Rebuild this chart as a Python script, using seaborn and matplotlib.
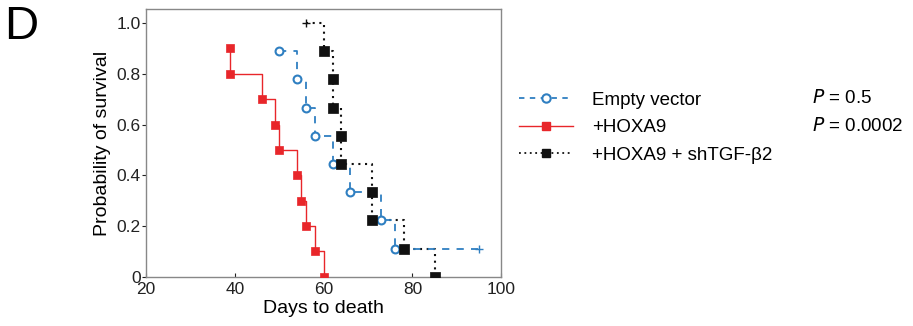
import seaborn as sns
import matplotlib.pyplot as plt
import pandas as pd
from matplotlib.lines import Line2D

# Kaplan-Meier steps
ev_days = [50, 54, 56, 58, 62, 66, 73, 76]
ev_surv = [0.889, 0.778, 0.667, 0.556, 0.444, 0.333, 0.222, 0.111]
ev_cens_day = 95

hox_days = [39, 39, 46, 49, 50, 54, 55, 56, 58, 60]
hox_surv = [0.9, 0.8, 0.7, 0.6, 0.5, 0.4, 0.3, 0.2, 0.1, 0.0]

sh_days = [60, 62, 62, 64, 64, 71, 71, 78, 85]
sh_surv = [0.889, 0.778, 0.667, 0.556, 0.444, 0.333, 0.222, 0.111, 0.0]
sh_cens_day = 56

labels = ["Empty vector", "+HOXA9", "+HOXA9 + shTGF-\u03b22"]
pvals = ["0.5", "0.0002", None]

blue = "#2f7fc1"
red = "#e8262a"
black = "#111111"

plt.rcParams['font.family'] = ['Liberation Sans', 'DejaVu Sans']

fig = plt.figure(figsize=(9.13, 3.26), dpi=100)
ax = fig.add_axes([0.160, 0.151, 0.389, 0.821])

# lines (steps), censored points included
ev_line = pd.DataFrame({"d": ev_days + [ev_cens_day], "s": ev_surv + [ev_surv[-1]]})
hox_line = pd.DataFrame({"d": hox_days, "s": hox_surv})
sh_line = pd.DataFrame({"d": [sh_cens_day] + sh_days, "s": [1.0] + sh_surv})

sns.lineplot(data=sh_line, x="d", y="s", ax=ax, color=black, sort=False, estimator=None,
             drawstyle="steps-post", linestyle=(0, (1, 2.2)), linewidth=1.5)
sns.lineplot(data=ev_line, x="d", y="s", ax=ax, color=blue, sort=False, estimator=None,
             drawstyle="steps-post", linestyle=(0, (4, 4)), linewidth=1.3)
sns.lineplot(data=hox_line, x="d", y="s", ax=ax, color=red, sort=False, estimator=None,
             drawstyle="steps-post", linewidth=1.0)

# event markers
sns.scatterplot(x=ev_days, y=ev_surv, ax=ax, marker="o", s=32, facecolor="white",
                edgecolor=blue, linewidth=1.5, zorder=5)
sns.scatterplot(x=hox_days, y=hox_surv, ax=ax, marker="s", s=38, color=red,
                edgecolor=red, zorder=5)
sns.scatterplot(x=sh_days, y=sh_surv, ax=ax, marker="s", s=42, color=black,
                edgecolor=black, zorder=6)
# censor marks
sns.scatterplot(x=[ev_cens_day], y=[ev_surv[-1]], ax=ax, marker="+", s=30, color=blue,
                linewidth=1.0, zorder=5)
sns.scatterplot(x=[sh_cens_day], y=[1.0], ax=ax, marker="+", s=30, color=black,
                linewidth=1.0, zorder=5)

ax.set_xlim(20, 100)
ax.set_ylim(0, 1.055)
ax.set_xticks([20, 40, 60, 80, 100])
ax.set_yticks([0, 0.2, 0.4, 0.6, 0.8, 1.0])
ax.set_yticklabels(["0", "0.2", "0.4", "0.6", "0.8", "1.0"])
ax.tick_params(axis="y", direction="out", length=3, labelsize=12.5, colors="#222222", pad=1)
ax.tick_params(axis="x", direction="in", length=3, labelsize=12.5, colors="#222222", pad=4)
for sp in ax.spines.values():
    sp.set_color("#888888")
    sp.set_linewidth(1.0)
ax.set_xlabel("Days to death", fontsize=14, labelpad=2)
ax.set_ylabel("Probability of survival", fontsize=14, labelpad=4)

fig.text(0.004, 0.985, "D", fontsize=34, va="top", ha="left")

# legend
handles = [
    Line2D([], [], color=blue, linestyle=(0, (3, 3)), linewidth=1.3, marker="o",
           markersize=6, markerfacecolor="white", markeredgewidth=1.5),
    Line2D([], [], color=red, linewidth=1.0, marker="s", markersize=6),
    Line2D([], [], color=black, linestyle=(0, (1, 2)), linewidth=1.3, marker="s",
           markersize=6),
]
leg = fig.legend(handles, labels, loc="upper left", bbox_to_anchor=(0.55, 0.77),
                 frameon=False, fontsize=13.5, handlelength=2.9, handletextpad=1.0,
                 labelspacing=0.55)

row_y = [0.70, 0.614]
for y, p in zip(row_y, pvals):
    if p is None:
        continue
    fig.text(0.889, y, "$\\it{P}$ = " + p, fontsize=13.5, va="center", ha="left")

fig.savefig("out.png", dpi=100)
